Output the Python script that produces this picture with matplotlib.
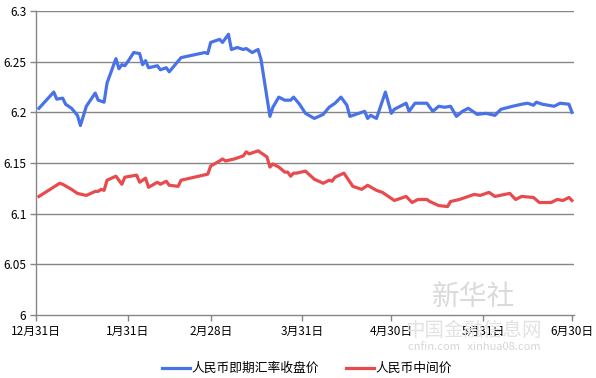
import numpy as np
import matplotlib
matplotlib.use("Agg")
import matplotlib.pyplot as plt
import matplotlib.dates as mdates

plt.rcParams['font.family'] = ['Noto Sans CJK SC', 'DejaVu Sans']

# spot closing rate (blue)
spot_dates = ["2015-01-01", "2015-01-06", "2015-01-07", "2015-01-09", "2015-01-10", "2015-01-12",
              "2015-01-14", "2015-01-15", "2015-01-17", "2015-01-20", "2015-01-21", "2015-01-23",
              "2015-01-24", "2015-01-27", "2015-01-28", "2015-01-29", "2015-01-30", "2015-01-31",
              "2015-02-02", "2015-02-04", "2015-02-05", "2015-02-06", "2015-02-07", "2015-02-10",
              "2015-02-11", "2015-02-13", "2015-02-14", "2015-02-16", "2015-02-18", "2015-02-26",
              "2015-02-27", "2015-02-28", "2015-03-03", "2015-03-04", "2015-03-06", "2015-03-07",
              "2015-03-09", "2015-03-11", "2015-03-12", "2015-03-14", "2015-03-16", "2015-03-17",
              "2015-03-20", "2015-03-21", "2015-03-23", "2015-03-25", "2015-03-27", "2015-03-28",
              "2015-03-30", "2015-04-01", "2015-04-04", "2015-04-07", "2015-04-09", "2015-04-11",
              "2015-04-13", "2015-04-15", "2015-04-16", "2015-04-21", "2015-04-22", "2015-04-23",
              "2015-04-25", "2015-04-28", "2015-04-30", "2015-05-01", "2015-05-05", "2015-05-06",
              "2015-05-08", "2015-05-12", "2015-05-14", "2015-05-16", "2015-05-18", "2015-05-20",
              "2015-05-22", "2015-05-24", "2015-05-26", "2015-05-29", "2015-06-01", "2015-06-04",
              "2015-06-06", "2015-06-10", "2015-06-13", "2015-06-15", "2015-06-17", "2015-06-18",
              "2015-06-20", "2015-06-24", "2015-06-26", "2015-06-29", "2015-06-30"]
spot_vals = [6.204, 6.220, 6.213, 6.214, 6.208, 6.204,
             6.197, 6.187, 6.206, 6.219, 6.212, 6.210,
             6.229, 6.253, 6.243, 6.247, 6.246, 6.250,
             6.259, 6.258, 6.247, 6.251, 6.244, 6.246,
             6.242, 6.244, 6.240, 6.247, 6.254, 6.259,
             6.258, 6.269, 6.272, 6.269, 6.277, 6.262,
             6.264, 6.262, 6.263, 6.259, 6.262, 6.252,
             6.196, 6.205, 6.215, 6.212, 6.212, 6.215,
             6.208, 6.199, 6.194, 6.198, 6.205, 6.209,
             6.215, 6.207, 6.196, 6.201, 6.194, 6.197,
             6.194, 6.220, 6.199, 6.203, 6.209, 6.201,
             6.209, 6.209, 6.201, 6.206, 6.205, 6.206,
             6.196, 6.201, 6.204, 6.198, 6.199, 6.197,
             6.203, 6.206, 6.208, 6.209, 6.207, 6.210,
             6.208, 6.206, 6.209, 6.208, 6.200]

# central parity (red)
mid_dates = ["2015-01-01", "2015-01-08", "2015-01-09", "2015-01-12", "2015-01-14", "2015-01-17",
             "2015-01-20", "2015-01-21", "2015-01-22", "2015-01-23", "2015-01-24", "2015-01-27",
             "2015-01-29", "2015-01-30", "2015-02-03", "2015-02-04", "2015-02-06", "2015-02-07",
             "2015-02-10", "2015-02-11", "2015-02-13", "2015-02-14", "2015-02-17", "2015-02-18",
             "2015-02-27", "2015-02-28", "2015-03-03", "2015-03-04", "2015-03-05", "2015-03-08",
             "2015-03-11", "2015-03-12", "2015-03-13", "2015-03-16", "2015-03-19", "2015-03-20",
             "2015-03-21", "2015-03-23", "2015-03-25", "2015-03-26", "2015-03-27", "2015-03-28",
             "2015-03-29", "2015-04-01", "2015-04-04", "2015-04-07", "2015-04-09", "2015-04-10",
             "2015-04-11", "2015-04-14", "2015-04-17", "2015-04-20", "2015-04-22", "2015-04-25",
             "2015-04-27", "2015-05-01", "2015-05-05", "2015-05-07", "2015-05-09", "2015-05-12",
             "2015-05-13", "2015-05-16", "2015-05-19", "2015-05-20", "2015-05-23", "2015-05-28",
             "2015-05-30", "2015-06-02", "2015-06-04", "2015-06-09", "2015-06-11", "2015-06-13",
             "2015-06-17", "2015-06-19", "2015-06-23", "2015-06-25", "2015-06-27", "2015-06-29",
             "2015-06-30"]
mid_vals = [6.117, 6.130, 6.129, 6.124, 6.120, 6.118,
            6.122, 6.122, 6.124, 6.123, 6.133, 6.137,
            6.129, 6.136, 6.138, 6.131, 6.135, 6.126,
            6.131, 6.129, 6.132, 6.128, 6.127, 6.133,
            6.139, 6.147, 6.152, 6.154, 6.152, 6.154,
            6.157, 6.161, 6.159, 6.162, 6.156, 6.146,
            6.149, 6.146, 6.141, 6.141, 6.137, 6.140,
            6.140, 6.142, 6.134, 6.130, 6.133, 6.132,
            6.136, 6.140, 6.127, 6.124, 6.128, 6.123,
            6.121, 6.113, 6.117, 6.111, 6.114, 6.114,
            6.112, 6.108, 6.107, 6.112, 6.114, 6.119,
            6.118, 6.121, 6.117, 6.120, 6.114, 6.117,
            6.116, 6.111, 6.111, 6.114, 6.113, 6.116,
            6.113]

tick_dates = ["2014-12-31", "2015-01-31", "2015-02-28", "2015-03-31",
              "2015-04-30", "2015-05-31", "2015-06-30"]
tick_labels = ["12月31日", "1月31日", "2月28日", "3月31日", "4月30日", "5月31日", "6月30日"]
y_ticks = [6, 6.05, 6.1, 6.15, 6.2, 6.25, 6.3]
y_labels = ["6", "6.05", "6.1", "6.15", "6.2", "6.25", "6.3"]

series_names = ["人民币即期汇率收盘价", "人民币中间价"]


def to_dt(lst):
    return np.array(lst, dtype="datetime64[D]")


fig = plt.figure(figsize=(5.96, 3.78), dpi=100)
fig.patch.set_facecolor("white")
ax = fig.add_axes([36 / 596, 63 / 378, 538 / 596, 304 / 378])

grid_c = "#868686"
for v in y_ticks[1:]:
    ax.axhline(v, color=grid_c, lw=1.0, zorder=1)

l1, = ax.plot(to_dt(spot_dates), spot_vals, color="#4a72e8", lw=2.3, zorder=3,
              solid_joinstyle="round")
l2, = ax.plot(to_dt(mid_dates), mid_vals, color="#e84b4d", lw=2.3, zorder=3,
              solid_joinstyle="round")

x0 = np.datetime64("2014-12-31")
ax.set_xlim(mdates.date2num(x0), mdates.date2num(x0) + 181.7)
ax.set_ylim(6, 6.3)
ax.set_xticks(mdates.date2num(to_dt(tick_dates)))
ax.set_xticklabels(tick_labels, fontsize=8.5)
ax.set_yticks(y_ticks)
ax.set_yticklabels(y_labels, fontsize=8.5)
ax.tick_params(axis="both", direction="out", length=4, color=grid_c, width=1, pad=3)

for s in ["top", "right"]:
    ax.spines[s].set_visible(False)
for s in ["left", "bottom"]:
    ax.spines[s].set_color(grid_c)
    ax.spines[s].set_linewidth(1.0)

# watermark, faint, behind the chart
fig.text(0.795, 0.215, "新华社", fontsize=20, color="#dadada", ha="center", va="center",
         style="italic", zorder=0)
fig.text(0.795, 0.125, "中国金融信息网", fontsize=14, color="#e2e2e2", ha="center", va="center",
         zorder=0)
fig.text(0.795, 0.082, "cnfin.com   xinhua08.com", fontsize=8, color="#d6d6d6", ha="center",
         va="center", zorder=0)

fig.legend([l1, l2], series_names, loc="center", bbox_to_anchor=(0.515, 0.025),
           ncol=2, frameon=False, fontsize=9.2, handlelength=2.2, handletextpad=0.1,
           columnspacing=2.1)

fig.savefig("out.png", dpi=100, facecolor="white")
